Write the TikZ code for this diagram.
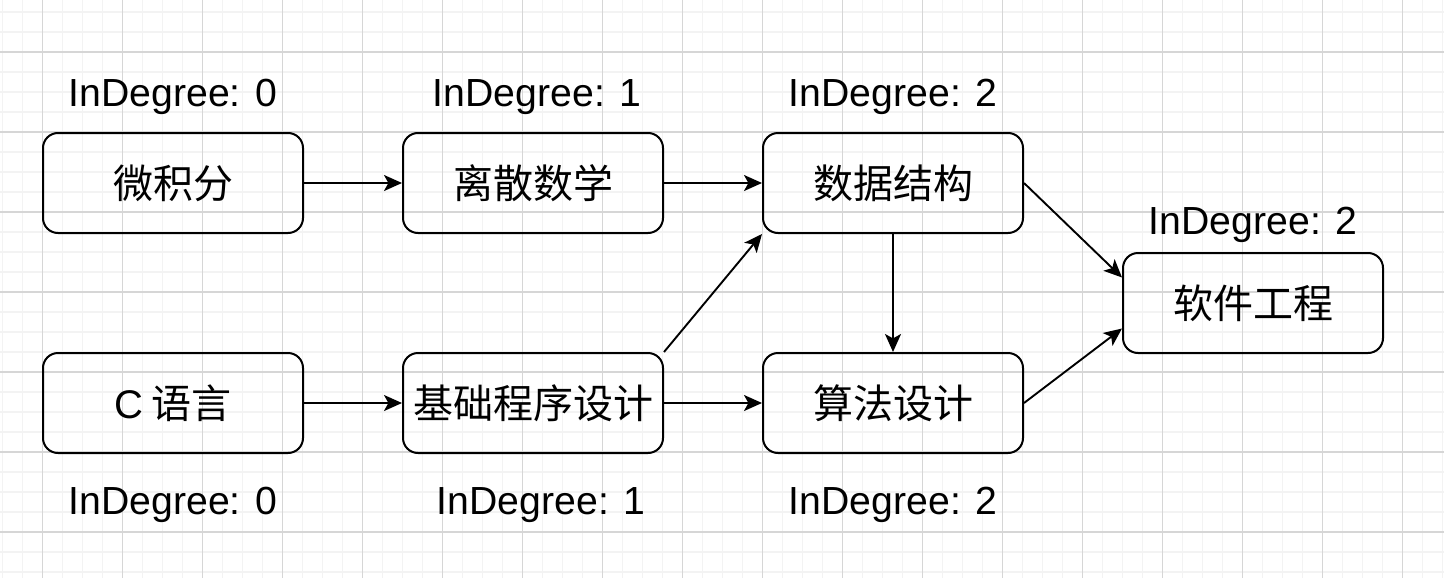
\documentclass[tikz,border=0pt]{standalone}
\usepackage{fontspec}
\setmainfont{Liberation Sans}
\newfontfamily\cjk{Noto Sans CJK SC}
\usetikzlibrary{arrows.meta,calc}
\definecolor{gridminor}{HTML}{F3F3F3}
\definecolor{gridmajor}{HTML}{D6D6D6}
\begin{document}
\begin{tikzpicture}[x=0.5pt,y=-0.5pt,
  course/.style={draw=black,line width=1pt,rounded corners=7.5pt,minimum width=130pt,minimum height=50pt,inner sep=0pt,font=\fontsize{20}{24}\selectfont\cjk},
  deg/.style={font=\fontsize{19.6}{24}\selectfont,inner sep=0pt},
  link/.style={line width=0.95pt,-{Stealth[length=9pt,width=8pt,inset=2.2pt]}}]
\useasboundingbox (0,0) rectangle (1444,578);
\fill[white] (0,0) rectangle (1444,578);
% grid
\foreach \i in {0,...,72} {\draw[gridminor,line width=0.7pt] (2.5+20*\i,0) -- (2.5+20*\i,578);}
\foreach \j in {0,...,28} {\draw[gridminor,line width=0.7pt] (0,12+20*\j) -- (1444,12+20*\j);}
\foreach \i in {0,...,17} {\draw[gridmajor,line width=0.6pt] (42.5+80*\i,0) -- (42.5+80*\i,578);}
\foreach \j in {0,...,6} {\draw[gridmajor,line width=0.6pt] (0,52+80*\j) -- (1444,52+80*\j);}
% boxes
\node[course] (wjf) at (173,183) {微积分};
\node[course] (lssx) at (533,183) {离散数学};
\node[course] (sjjg) at (893,183) {数据结构};
\node[course] (rjgc) at (1253,303) {软件工程};
\node[course] (cyy) at (173,403) {{\fontspec{Liberation Sans}C} 语言};
\node[course] (jcsj) at (533,403) {基础程序设计};
\node[course] (sfsj) at (893,403) {算法设计};
% labels
\node[deg] (l1) at (173,97) {InDegree: 0};
\node[deg] (l2) at (537,97) {InDegree: 1};
\node[deg] (l3) at (893,97) {InDegree: 2};
\node[deg] (l4) at (1253,225) {InDegree: 2};
\node[deg] (l5) at (173,505) {InDegree: 0};
\node[deg] (l6) at (541,505) {InDegree: 1};
\node[deg] (l7) at (893,505) {InDegree: 2};
% connectors
\draw[link] (wjf.east) -- (lssx.west);
\draw[link] (lssx.east) -- (sjjg.west);
\draw[link] (cyy.east) -- (jcsj.west);
\draw[link] (jcsj.east) -- (sfsj.west);
\draw[link] (sjjg.south) -- (sfsj.north);
\draw[link] (jcsj.north east) -- (sjjg.south west);
\draw[link] (sjjg.east) -- ($(rjgc.north west)!0.25!(rjgc.south west)$);
\draw[link] (sfsj.east) -- ($(rjgc.north west)!0.75!(rjgc.south west)$);
\end{tikzpicture}
\end{document}
